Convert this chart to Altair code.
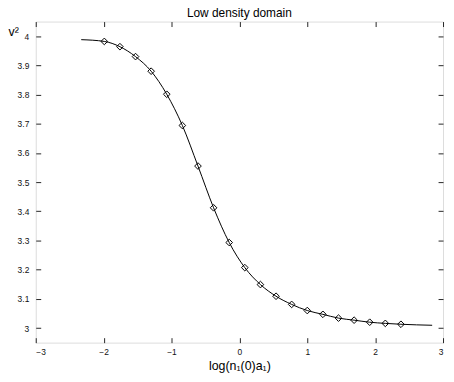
import altair as alt
import pandas as pd

# Marker positions
marker_x = [-1.99, -1.76, -1.53, -1.30, -1.07, -0.84, -0.61, -0.38, -0.15, 0.08,
            0.31, 0.54, 0.77, 1.00, 1.23, 1.46, 1.69, 1.92, 2.15, 2.38]
marker_y = [3.982, 3.964, 3.930, 3.880, 3.801, 3.694, 3.555, 3.412, 3.293, 3.207,
            3.149, 3.109, 3.081, 3.060, 3.047, 3.034, 3.027, 3.020, 3.016, 3.013]

# Solid curve (start, points along the curve, end)
curve_x = [-2.33] + marker_x + [2.84]
curve_y = [3.988] + marker_y + [3.0095]

x_ticks = [-3, -2, -1, 0, 1, 2, 3]
y_ticks = [3.0, 3.1, 3.2, 3.3, 3.4, 3.5, 3.6, 3.7, 3.8, 3.9, 4.0]

chart_title = "Low density domain"
x_title = "log(n₁(0)a₁)"
y_title = "v²"

markers = pd.DataFrame({"x": marker_x, "y": marker_y})
curve = pd.DataFrame({"x": curve_x, "y": curve_y})

xscale = alt.Scale(domain=[-3, 3], nice=False, zero=False)
yscale = alt.Scale(domain=[2.95, 4.05], nice=False, zero=False)

FRAME = "#262626"
common = dict(domain=False, grid=False, tickSize=5, offset=-5,
              tickColor=FRAME, tickWidth=1, labelColor="#111",
              labelFontSize=8.5, labelFont="Liberation Sans")

line = alt.Chart(curve).mark_line(color="black", strokeWidth=1, interpolate="monotone").encode(
    x=alt.X("x:Q", scale=xscale,
            axis=alt.Axis(values=x_ticks, title=x_title, orient="bottom",
                          labelPadding=5, titleFontSize=12.5, titleFontWeight="normal",
                          titleColor="#000", titlePadding=4, titleFont="Liberation Sans",
                          **common)),
    y=alt.Y("y:Q", scale=yscale,
            axis=alt.Axis(values=y_ticks, format="~g", title=y_title, orient="left",
                          labelPadding=7, titleAngle=0, titleAlign="left",
                          titleBaseline="alphabetic", titleX=-33, titleY=14.5,
                          titleFontSize=12.5, titleFontWeight="normal", titleColor="#000",
                          titleFont="Liberation Sans", **common)),
)

points = alt.Chart(markers).mark_point(shape="diamond", filled=False, size=45,
                                        color="black", strokeWidth=1, opacity=1).encode(
    x=alt.X("x:Q", scale=xscale, title=None,
            axis=alt.Axis(values=x_ticks, orient="top", labels=False, **common)),
    y=alt.Y("y:Q", scale=yscale, title=None,
            axis=alt.Axis(values=y_ticks, orient="right", labels=False, **common)),
)

chart = alt.layer(line, points).resolve_axis(x="independent", y="independent").properties(
    width=411,
    height=324,
    title=alt.TitleParams(chart_title, fontSize=12, fontWeight="normal",
                          offset=1, color="#000", font="Liberation Sans"),
    padding={"left": 28, "top": 12, "right": 3, "bottom": 36},
    autosize=alt.AutoSizeParams(type="none"),
).configure_view(stroke=FRAME, strokeWidth=1).configure(font="Liberation Sans", background="white")

chart.save("out.html", embed_options={"renderer": "svg", "actions": False})
